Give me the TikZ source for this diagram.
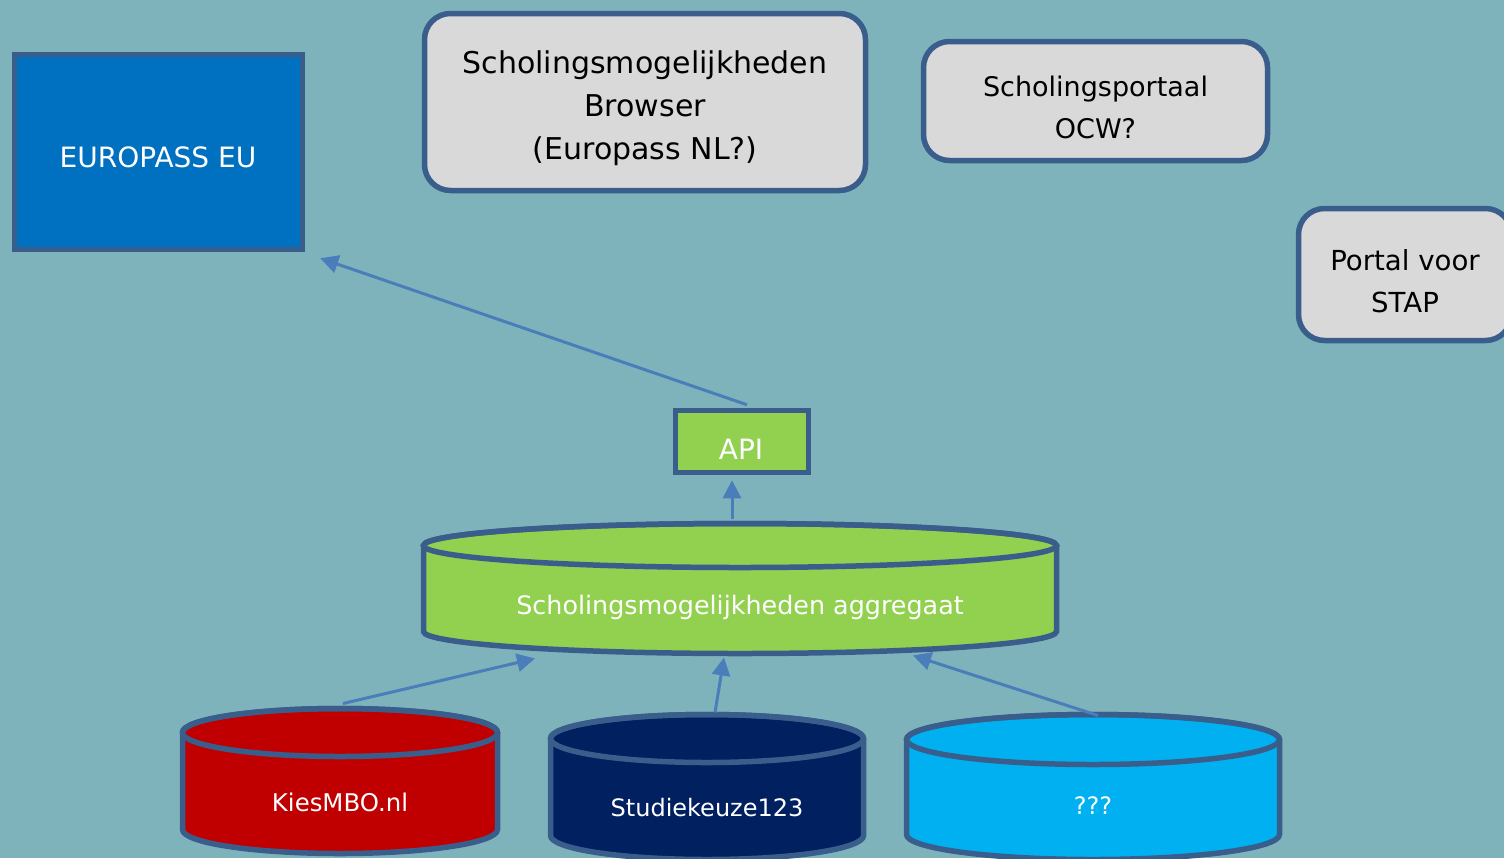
\documentclass[tikz,border=0pt]{standalone}
\usepackage{fontspec}
\setmainfont{DejaVu Sans}
\usetikzlibrary{arrows.meta,calc}

\definecolor{bgteal}{HTML}{7FB3BC}
\definecolor{edgeblue}{HTML}{3A5E8C}
\definecolor{arrowblue}{HTML}{4A7EBB}
\definecolor{boxgrey}{HTML}{D9D9D9}
\definecolor{euroblue}{HTML}{0070C0}
\definecolor{limegreen}{HTML}{92D050}
\definecolor{kiesred}{HTML}{C00000}
\definecolor{navyblue}{HTML}{002060}
\definecolor{skyblue}{HTML}{00B0F0}

\tikzset{
  box/.style={draw=edgeblue, line width=2.75pt, inner sep=0pt},
  greybox/.style={box, fill=boxgrey, rounded corners=13pt},
  boxtext/.style={align=center, inner sep=0pt},
  drumbox/.style={rectangle, inner sep=0pt, outer sep=0pt},
  drumline/.style={draw=edgeblue, line width=2.75pt},
  dbtext/.style={text=white, font=\fontsize{12}{14}\selectfont},
  feed/.style={-{Triangle[length=9pt,width=9pt]}, draw=arrowblue, line width=1.5pt},
}

% #1 node, #2 fill, #3 half width, #4 y radius of the ends
\newcommand{\drum}[4]{%
  \draw[drumline, fill=#2] ([yshift=-#4]#1.north west) -- ([yshift=#4]#1.south west)
    arc[start angle=180, end angle=360, x radius=#3, y radius=#4]
    -- ([yshift=-#4]#1.north east)
    arc[start angle=0, end angle=180, x radius=#3, y radius=#4] -- cycle;
  \draw[drumline] ([yshift=-#4]#1.north) ellipse[x radius=#3, y radius=#4];
}

\begin{document}
\begin{tikzpicture}[x=0.5pt,y=-0.5pt]
  \fill[bgteal] (0,0) rectangle (1504,858);
  \useasboundingbox (0,0) rectangle (1504,858);

  % top row
  \node[box, fill=euroblue, minimum width=144pt, minimum height=97.5pt] (europass) at (158.5,152) {};
  \node[boxtext, text=white, font=\fontsize{14}{16}\selectfont] (europasstext) at (158,157) {EUROPASS EU};
  \node[greybox, minimum width=220.5pt, minimum height=88.5pt] (browser) at (645,102) {};
  \node[boxtext, font=\fontsize{15}{21.5}\selectfont] (browsertext) at (645,108)
        {Scholingsmogelijkheden\\Browser\\(Europass NL?)};
  \node[greybox, minimum width=172pt, minimum height=59.5pt] (portaal) at (1095.5,101) {};
  \node[boxtext, font=\fontsize{13.5}{21}\selectfont] (portaaltext) at (1095.5,107.5)
        {Scholingsportaal\\OCW?};
  \node[greybox, minimum width=106.5pt, minimum height=66pt] (stap) at (1405,274.5) {};
  \node[boxtext, font=\fontsize{13.8}{21}\selectfont] (staptext) at (1405,281.5)
        {Portal voor\\STAP};

  % middle
  \node[box, fill=limegreen, minimum width=66.5pt, minimum height=31pt] (api) at (742,441.5) {};
  \node[boxtext, text=white, font=\fontsize{14}{16}\selectfont] (apitext) at (741,449.5) {API};
  \node[drumbox, minimum width=316.5pt, minimum height=65pt] (agg) at (740,588.5) {};
  \drum{agg}{limegreen}{158.25pt}{11pt}
  \node[dbtext, font=\fontsize{12.7}{14}\selectfont] (aggtext) at (740,607) {Scholingsmogelijkheden aggregaat};

  % sources
  \node[drumbox, minimum width=157.5pt, minimum height=72.5pt] (kies) at (340,781) {};
  \drum{kies}{kiesred}{78.75pt}{12pt}
  \node[dbtext, font=\fontsize{12.2}{14}\selectfont] (kiestext) at (340,802) {KiesMBO.nl};
  \node[drumbox, minimum width=156.5pt, minimum height=72.5pt] (stud) at (707,787) {};
  \drum{stud}{navyblue}{78.25pt}{12pt}
  \node[dbtext] (studtext) at (707,808) {Studiekeuze123};
  \node[drumbox, minimum width=186.5pt, minimum height=72.5pt] (onbekend) at (1093,787) {};
  \drum{onbekend}{skyblue}{93.25pt}{12.5pt}
  \node[dbtext] (onbekendtext) at (1093,806) {???};

  % arrows
  \draw[feed] ($(api.north)+(5,-3)$) -- ($(europass.south east)+(15,6)$);
  \draw[feed] ($(agg.north)+(-8,-5)$) -- ($(api.south)+(-10,5)$);
  \draw[feed] ($(kies.north)+(3,-5)$) -- ($(agg.south)+(-205,5)$);
  \draw[feed] ($(stud.north)+(8,-2)$) -- ($(agg.south)+(-16,4)$);
  \draw[feed] ($(onbekend.north)+(5,1)$) -- ($(agg.south)+(173,2)$);
\end{tikzpicture}
\end{document}
